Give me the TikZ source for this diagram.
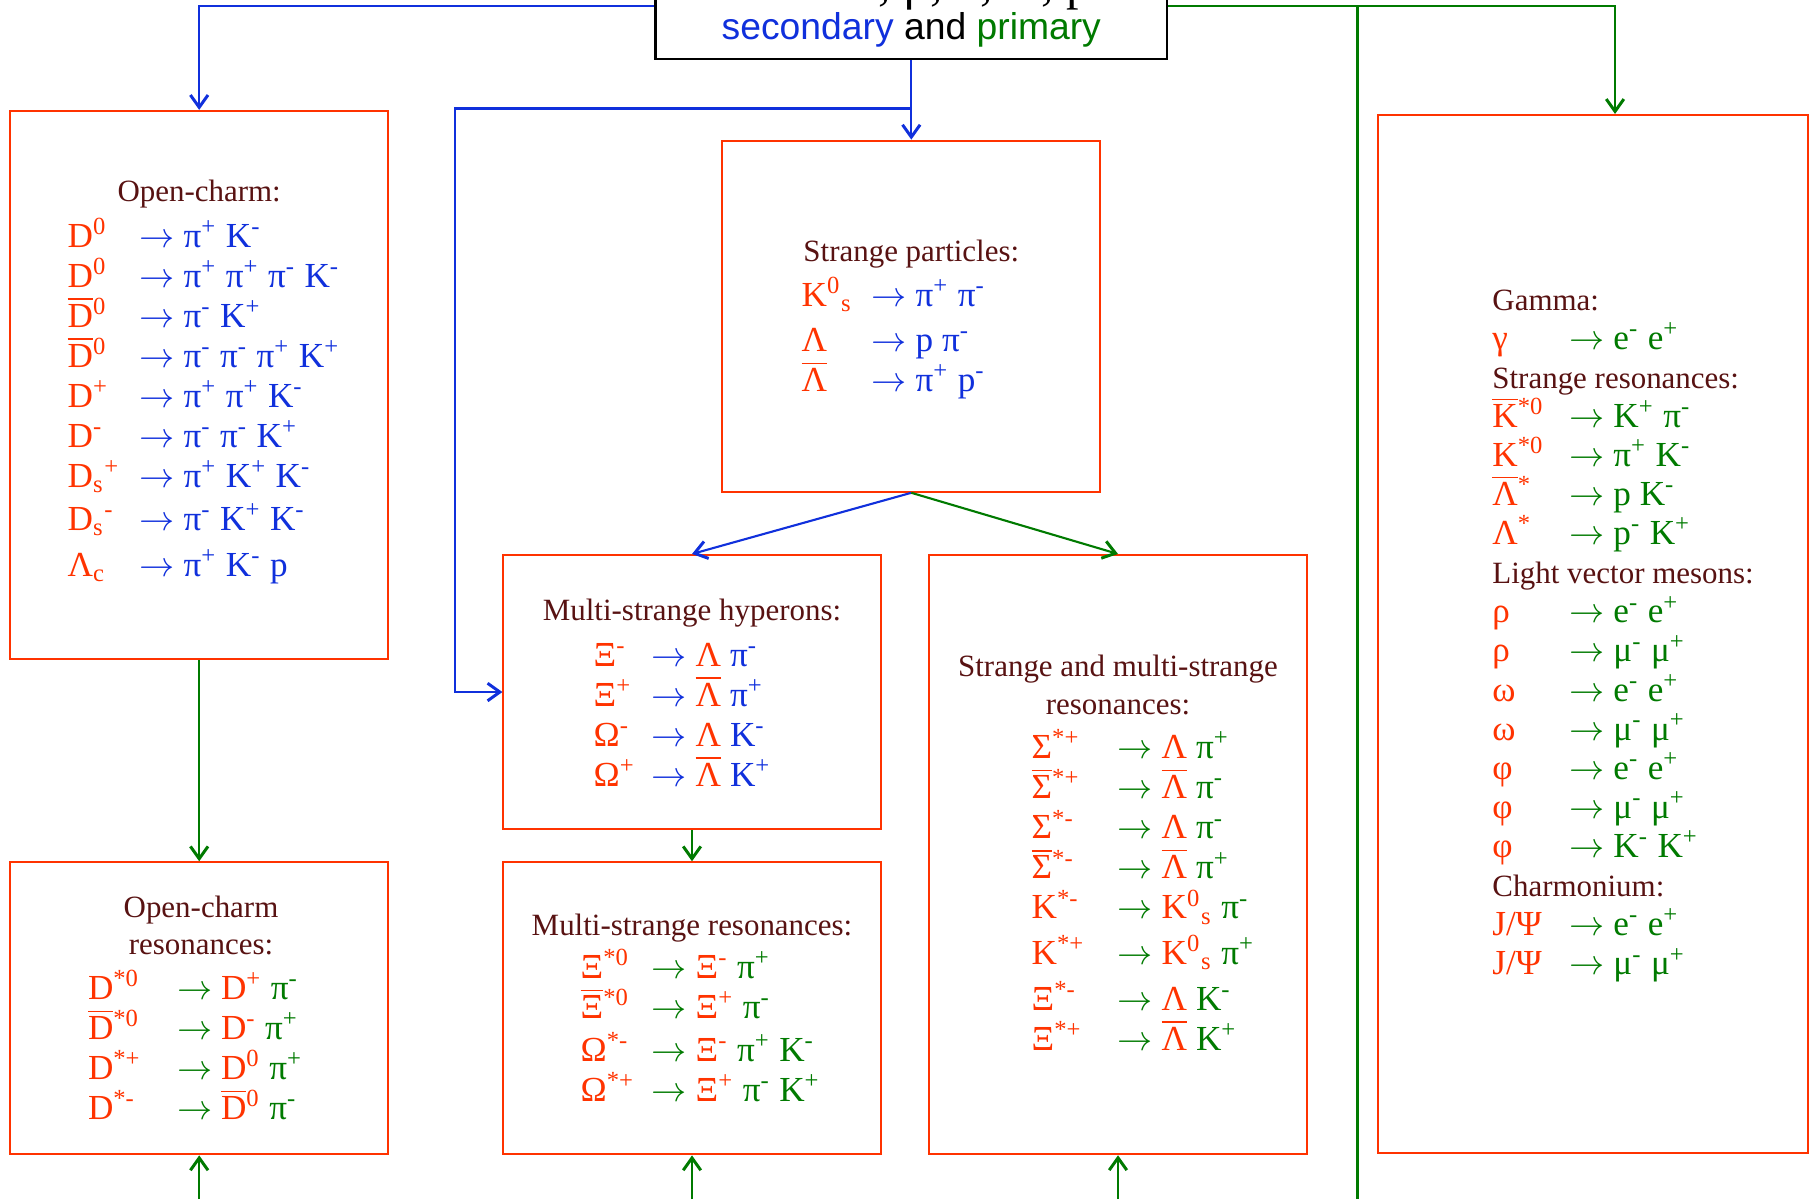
\documentclass[tikz,border=0pt]{standalone}
\usepackage{fontspec}
\setmainfont{Liberation Serif}
\newfontfamily\arialfont{Liberation Sans}
\usetikzlibrary{arrows.meta, positioning}

\definecolor{pred}{RGB}{255,51,0}
\definecolor{sec}{RGB}{16,48,220}
\definecolor{prim}{RGB}{0,122,0}
\definecolor{ttlbrown}{RGB}{88,18,18}

\newcommand{\pa}[1]{\textcolor{pred}{#1}}
\newcommand{\up}[1]{\textsuperscript{\smash{#1}}}
\newcommand{\dn}[1]{\textsubscript{#1}}
\newcommand{\anti}[1]{\smash{\ensuremath{\overline{\hbox{#1}}}}}
\newcommand{\dk}{\ensuremath{\rightarrow}}
\newcommand{\ttlfont}{\fontsize{8.8}{10.7}\selectfont}
\newcommand{\rowfont}{\fontsize{10}{11.38}\selectfont}
\newcommand{\hd}[1]{{\color{ttlbrown}\ttlfont #1}}

\tikzset{
  box/.style={draw=pred, line width=0.55pt, inner sep=0pt},
  ttl/.style={text=ttlbrown, font=\ttlfont, inner sep=0pt, anchor=base},
  declist/.style={font=\rowfont, inner sep=0pt, anchor=base west},
  secl/.style={->, sec, line width=0.6pt},
  priml/.style={->, prim, line width=0.6pt},
  >={Straight Barb[length=3.5pt,width=5pt,line width=0.85pt]}
}

\begin{document}
\begin{tikzpicture}[x=0.01cm, y=-0.01cm]
  \useasboundingbox (0,0) rectangle (1810,1199);

  % boxes
  \node[draw, line width=0.7pt, minimum width=5.11cm, minimum height=1.06cm, inner sep=0pt] (src) at (911.3,6) {};
  \node[box, minimum width=3.78cm, minimum height=5.48cm] (oc) at (199.2,385) {};
  \node[box, minimum width=3.78cm, minimum height=3.51cm] (sp) at (911.3,316.2) {};
  \node[box, minimum width=4.30cm, minimum height=10.37cm] (lep) at (1592.8,633.7) {};
  \node[box, minimum width=3.77cm, minimum height=2.74cm] (msh) at (692,692) {};
  \node[box, minimum width=3.78cm, minimum height=5.99cm] (smr) at (1118,854.6) {};
  \node[box, minimum width=3.78cm, minimum height=2.92cm] (ocr) at (199.2,1008.3) {};
  \node[box, minimum width=3.77cm, minimum height=2.92cm] (msr) at (692,1008.3) {};

  % source box text
  \node[anchor=base west, inner sep=0pt, font=\fontsize{14.2}{17}\selectfont] (cut) at (856,-1) {e, μ, π, K, p};
  \node[anchor=base, inner sep=0pt, font=\arialfont\fontsize{10.6}{12}\selectfont] (tag) at (911.3,39.3)
    {\textcolor{sec}{secondary} and \textcolor{prim}{primary}};

  % connectors
  \coordinate (fork) at (911.3,108.5);
  \coordinate (bend) at (454.8,108.5);
  \coordinate (bus) at (1357.5,6);
  \coordinate (busend) at (1357.5,1199);
  \coordinate (in1) at (199.2,1199);
  \coordinate (in2) at (692,1199);
  \coordinate (in3) at (1118,1199);

  \draw[secl] (src.west) -| (oc.north);
  \draw[secl] (src.south) -- (sp.north);
  \draw[secl] (fork) -- (bend) |- (msh.west);
  \draw[priml] (src.east) -| ([xshift=0.222cm]lep.north);
  \draw[prim, line width=0.6pt] (bus) -- (busend);
  \draw[priml] (oc.south) -- (ocr.north);
  \draw[secl] (sp.south) -- (msh.north);
  \draw[priml] (sp.south) -- (smr.north);
  \draw[priml] (msh.south) -- (msr.north);
  \draw[priml] (in1) -- (ocr.south);
  \draw[priml] (in2) -- (msr.south);
  \draw[priml] (in3) -- (smr.south);

  % open charm
  \node[ttl] (octtl) at (199.2,201.8) {Open-charm:};
  \node[declist, text=sec] (oclist) at (67,247) {\begin{tabular}[t]{@{}p{0.72cm}@{}l@{}}
    \pa{D\up{0}} & \dk{} π\up{+} K\up{-}\\
    \pa{D\up{0}} & \dk{} π\up{+} π\up{+} π\up{-} K\up{-}\\
    \pa{\anti{D}\up{0}} & \dk{} π\up{-} K\up{+}\\
    \pa{\anti{D}\up{0}} & \dk{} π\up{-} π\up{-} π\up{+} K\up{+}\\
    \pa{D\up{+}} & \dk{} π\up{+} π\up{+} K\up{-}\\
    \pa{D\up{-}} & \dk{} π\up{-} π\up{-} K\up{+}\\
    \pa{D\dn{s}\up{+}} & \dk{} π\up{+} K\up{+} K\up{-}\\[1pt]
    \pa{D\dn{s}\up{-}} & \dk{} π\up{-} K\up{+} K\up{-}\\[1.6pt]
    \pa{Λ\dn{c}} & \dk{} π\up{+} K\up{-} p
  \end{tabular}};

  % strange particles
  \node[ttl] (sptl) at (911.3,261.7) {Strange particles:};
  \node[declist, text=sec] (splist) at (801,306.7) {\begin{tabular}[t]{@{}p{0.70cm}@{}l@{}}
    \pa{K\up{0}\dn{s}} & \dk{} π\up{+} π\up{-}\\[1.4pt]
    \pa{Λ} & \dk{} p π\up{-}\\
    \pa{\anti{Λ}} & \dk{} π\up{+} p\up{-}
  \end{tabular}};

  % primary, right column
  \node[declist, text=prim, font=\fontsize{10}{11.12}\selectfont] (leplist) at (1491.7,310) {\begin{tabular}[t]{@{}p{0.77cm}@{}l@{}}
    \multicolumn{2}{@{}l@{}}{\hd{Gamma:}}\\
    \pa{γ} & \dk{} e\up{-} e\up{+}\\
    \multicolumn{2}{@{}l@{}}{\hd{Strange resonances:}}\\
    \pa{\anti{K}\up{*0}} & \dk{} K\up{+} π\up{-}\\
    \pa{K\up{*0}} & \dk{} π\up{+} K\up{-}\\
    \pa{\anti{Λ}\up{*}} & \dk{} p K\up{-}\\
    \pa{Λ\up{*}} & \dk{} p\up{-} K\up{+}\\
    \multicolumn{2}{@{}l@{}}{\hd{Light vector mesons:}}\\
    \pa{ρ} & \dk{} e\up{-} e\up{+}\\
    \pa{ρ} & \dk{} μ\up{-} μ\up{+}\\
    \pa{ω} & \dk{} e\up{-} e\up{+}\\
    \pa{ω} & \dk{} μ\up{-} μ\up{+}\\
    \pa{φ} & \dk{} e\up{-} e\up{+}\\
    \pa{φ} & \dk{} μ\up{-} μ\up{+}\\
    \pa{φ} & \dk{} K\up{-} K\up{+}\\
    \multicolumn{2}{@{}l@{}}{\hd{Charmonium:}}\\
    \pa{J/Ψ} & \dk{} e\up{-} e\up{+}\\
    \pa{J/Ψ} & \dk{} μ\up{-} μ\up{+}
  \end{tabular}};

  % multi-strange hyperons
  \node[ttl] (mshtl) at (692,620) {Multi-strange hyperons:};
  \node[declist, text=sec] (mshlist) at (593,666) {\begin{tabular}[t]{@{}p{0.58cm}@{}l@{}}
    \pa{Ξ\up{-}} & \dk{} \pa{Λ} π\up{-}\\
    \pa{Ξ\up{+}} & \dk{} \pa{\anti{Λ}} π\up{+}\\
    \pa{Ω\up{-}} & \dk{} \pa{Λ} K\up{-}\\
    \pa{Ω\up{+}} & \dk{} \pa{\anti{Λ}} K\up{+}
  \end{tabular}};

  % strange and multi-strange resonances
  \node[ttl] (smrtl) at (1118,676.4) {\begin{tabular}[t]{@{}c@{}}Strange and multi-strange\\resonances:\end{tabular}};
  \node[declist, text=prim] (smrlist) at (1031,758.7) {\begin{tabular}[t]{@{}p{0.86cm}@{}l@{}}
    \pa{Σ\up{*+}} & \dk{} \pa{Λ} π\up{+}\\
    \pa{\anti{Σ}\up{*+}} & \dk{} \pa{\anti{Λ}} π\up{-}\\
    \pa{Σ\up{*-}} & \dk{} \pa{Λ} π\up{-}\\
    \pa{\anti{Σ}\up{*-}} & \dk{} \pa{\anti{Λ}} π\up{+}\\
    \pa{K\up{*-}} & \dk{} \pa{K\up{0}\dn{s}} π\up{-}\\[1.6pt]
    \pa{K\up{*+}} & \dk{} \pa{K\up{0}\dn{s}} π\up{+}\\[1.6pt]
    \pa{Ξ\up{*-}} & \dk{} \pa{Λ} K\up{-}\\
    \pa{Ξ\up{*+}} & \dk{} \pa{\anti{Λ}} K\up{+}
  \end{tabular}};

  % open charm resonances
  \node[ttl] (ocrtl) at (201,917.3) {\begin{tabular}[t]{@{}c@{}}Open-charm\\resonances:\end{tabular}};
  \node[declist, text=prim] (ocrlist) at (87.3,999.3) {\begin{tabular}[t]{@{}p{0.89cm}@{}l@{}}
    \pa{D\up{*0}} & \dk{} \pa{D\up{+}} π\up{-}\\
    \pa{\anti{D}\up{*0}} & \dk{} \pa{D\up{-}} π\up{+}\\
    \pa{D\up{*+}} & \dk{} \pa{D\up{0}} π\up{+}\\
    \pa{D\up{*-}} & \dk{} \pa{\anti{D}\up{0}} π\up{-}
  \end{tabular}};

  % multi-strange resonances
  \node[ttl] (msrtl) at (692,935) {Multi-strange resonances:};
  \node[declist, text=prim] (msrlist) at (580,978.3) {\begin{tabular}[t]{@{}p{0.71cm}@{}l@{}}
    \pa{Ξ\up{*0}} & \dk{} \pa{Ξ\up{-}} π\up{+}\\
    \pa{\anti{Ξ}\up{*0}} & \dk{} \pa{Ξ\up{+}} π\up{-}\\[0.9pt]
    \pa{Ω\up{*-}} & \dk{} \pa{Ξ\up{-}} π\up{+} K\up{-}\\
    \pa{Ω\up{*+}} & \dk{} \pa{Ξ\up{+}} π\up{-} K\up{+}
  \end{tabular}};
\end{tikzpicture}
\end{document}
